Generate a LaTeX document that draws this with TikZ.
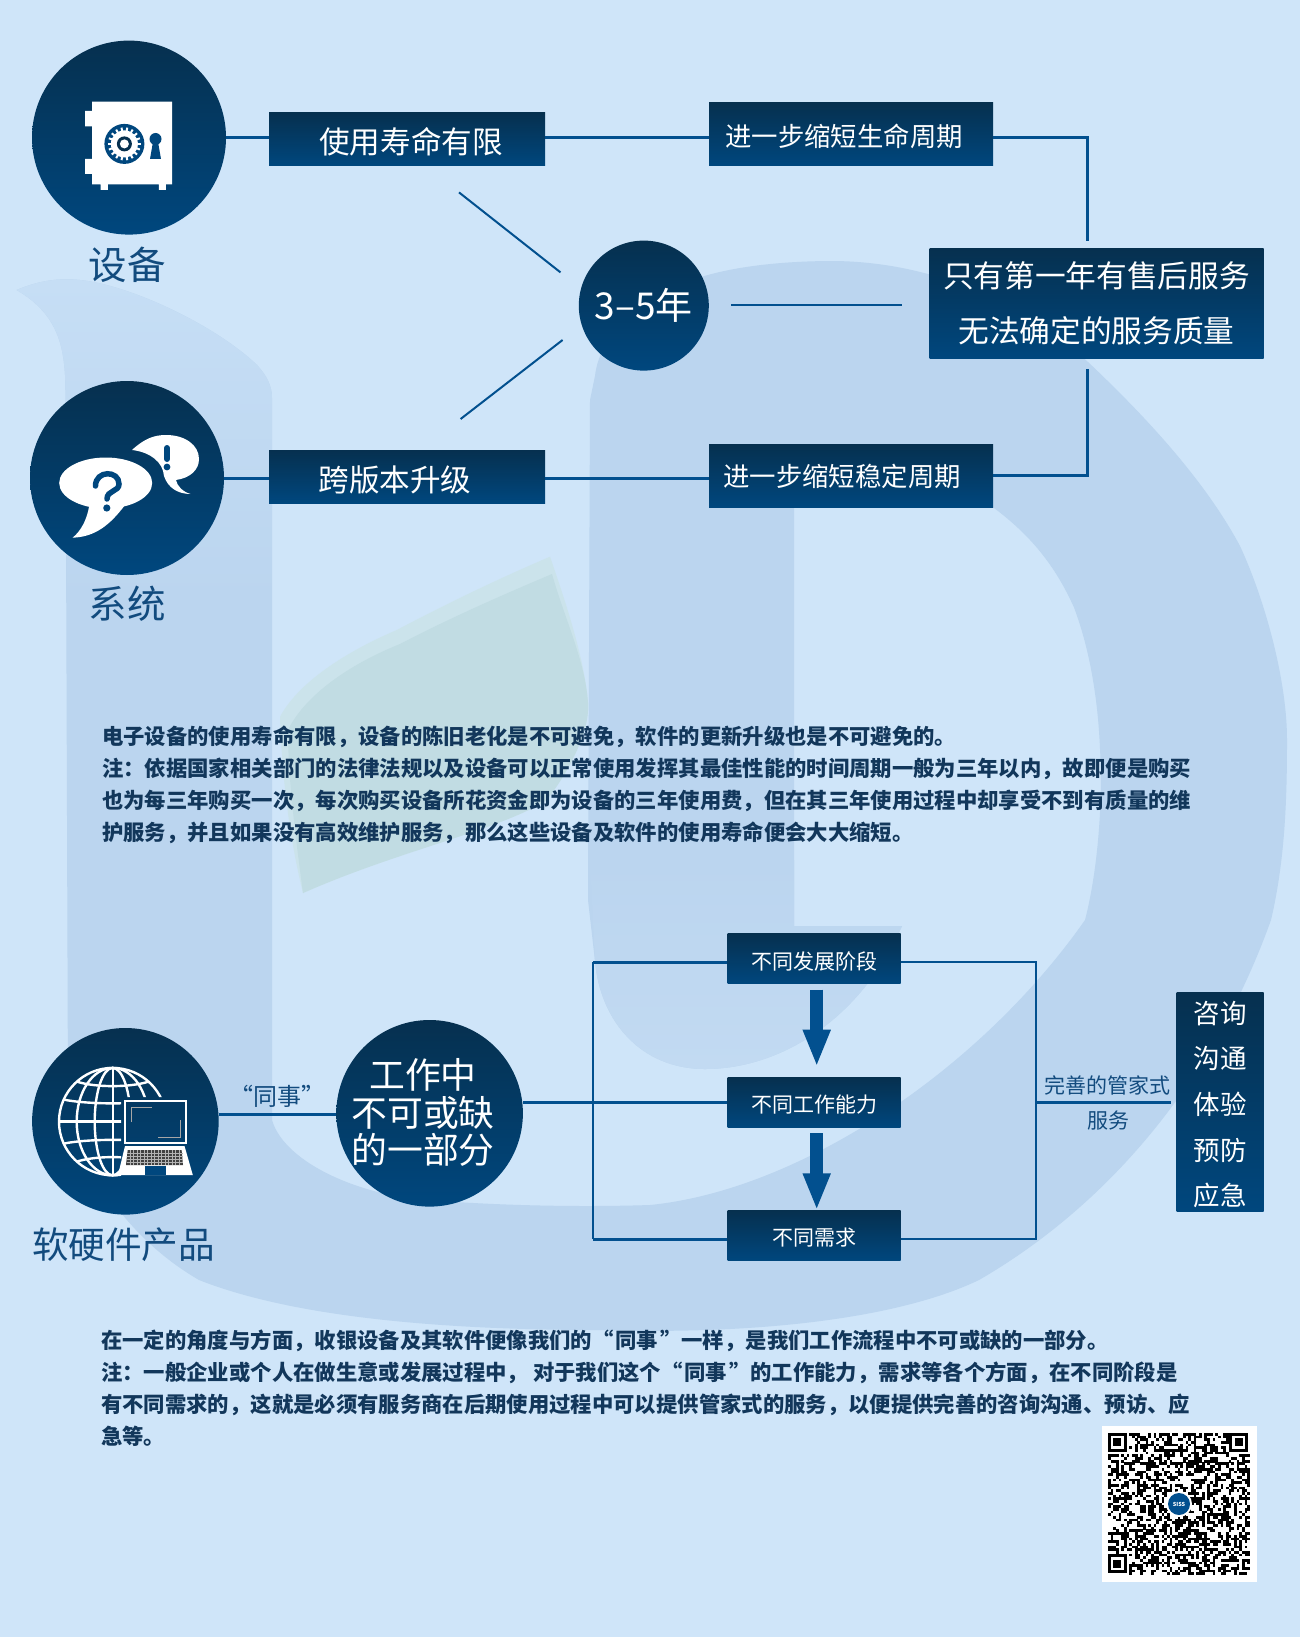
\documentclass[tikz,border=0pt]{standalone}
\usepackage{fontspec}
\setmainfont{Noto Sans CJK SC}
\usetikzlibrary{arrows.meta, positioning}
\definecolor{pageblue}{HTML}{CFE5F9}
\definecolor{markblue}{HTML}{BBD5EF}
\definecolor{palemark}{HTML}{C6DEF5}
\definecolor{lobeblue}{HTML}{C2DAF2}
\definecolor{leafout}{HTML}{CBE3EB}
\definecolor{leafin}{HTML}{C1DCE3}
\definecolor{navytop}{HTML}{06304F}
\definecolor{navybot}{HTML}{00477E}
\definecolor{linkblue}{HTML}{02508F}
\definecolor{capblue}{HTML}{124B7E}
\definecolor{inkblue}{HTML}{12375B}
\newcommand{\fsz}[1]{\fontsize{#1}{#1}\selectfont}

\begin{document}
\begin{tikzpicture}[x=1pt,y=-1pt,
                    navy/.style={top color=navytop,bottom color=navybot,text=white,inner sep=0pt},
                    round/.style={navy,circle,minimum size=#1},
                    bar/.style={navy,rectangle},
                    link/.style={linkblue,line width=3pt},
                    thinlink/.style={linkblue,line width=2pt},
                    fat/.style={linkblue,line width=12.5pt,-{Triangle[length=37pt,width=25.3pt]}},
                    caption/.style={text=capblue,inner sep=0pt},
                    para/.style={text=inkblue,inner sep=0pt,anchor=north west,align=left,
                                 font=\bfseries\fontsize{21.35}{32}\selectfont}]
                \useasboundingbox (0,0) rectangle (1300,1637);
                \fill[pageblue] (0,0) rectangle (1300,1637);

                % watermark
                \fill[markblue] (16.6,290) .. controls (40,280) and (60,278) .. (80,280)
                    .. controls (130,285) and (215,325) .. (257,365)
                    .. controls (266,375) and (272,385) .. (272,398)
                    -- (272,1120) .. controls (285,1165) and (370,1202) .. (456,1202)
                    .. controls (520,1206) and (590,1207) .. (650,1205)
                    .. controls (800,1190) and (980,1070) .. (1085,920)
                    .. controls (1098,870) and (1103,800) .. (1100,749)
                    .. controls (1098,700) and (1090,650) .. (1074,607.5)
                    .. controls (1055,565) and (1030,535) .. (994,508)
                    .. controls (950,480) and (870,470) .. (794,470)
                    -- (794,926) -- (902,926)
                    .. controls (860,1020) and (780,1069) .. (705,1069)
                    .. controls (640,1069) and (600,1020) .. (595,961)
                    -- (588,900) -- (590,400) -- (595,376)
                    .. controls (600,330) and (650,290) .. (701,277)
                    .. controls (740,265) and (790,261) .. (834,261)
                    .. controls (930,262) and (1020,300) .. (1088,362)
                    .. controls (1160,430) and (1210,490) .. (1240,546)
                    .. controls (1265,600) and (1287,680) .. (1287,740)
                    .. controls (1287,800) and (1285,860) .. (1271,920)
                    .. controls (1210,1090) and (1100,1210) .. (979,1280)
                    .. controls (900,1318) and (760,1335) .. (600,1330)
                    .. controls (460,1330) and (300,1320) .. (199,1280)
                    .. controls (130,1240) and (80,1170) .. (68,1100)
                    -- (65.5,390) .. controls (65,350) and (60,315) .. (16.6,290) -- cycle;
                \shade[top color=palemark,bottom color=markblue] (16.6,290) .. controls (40,280) and (60,278) .. (80,280)
                    .. controls (130,285) and (215,325) .. (257,365)
                    .. controls (266,375) and (272,385) .. (272,398)
                    -- (272,600) -- (66.5,600)
                    -- (65.5,390) .. controls (65,350) and (60,315) .. (16.6,290) -- cycle;
                \shade[top color=markblue,bottom color=lobeblue] (590,860) -- (794,860) -- (794,926) -- (902,926)
                    .. controls (860,1020) and (780,1069) .. (705,1069)
                    .. controls (640,1069) and (600,1020) .. (595,961) -- cycle;
                \fill[leafout] (550,556.7) .. controls (500,578) and (450,602) .. (396.7,630)
                    .. controls (350,650) and (300,680) .. (280,716.7)
                    .. controls (282,780) and (290,840) .. (303,893)
                    .. controls (400,850) and (500,830) .. (546.7,800)
                    .. controls (570,770) and (590,730) .. (588,703)
                    .. controls (585,660) and (565,600) .. (550,556.7) -- cycle;
                \fill[leafin] (552,574) .. controls (500,596) and (450,618) .. (400,644)
                    .. controls (350,664) and (305,695) .. (288,730)
                    .. controls (288,780) and (296,840) .. (303,893)
                    .. controls (400,850) and (500,830) .. (546.7,800)
                    .. controls (570,770) and (590,730) .. (588,703)
                    .. controls (585,660) and (565,620) .. (552,574) -- cycle;

                % upper flow
                \node[round=194pt] (device) at (129,137.6) {};
                \node[round=194pt] (system) at (127,478) {};
                \node[round=130pt,font=\fsz{37}] (years) at (643.8,305.6) {3–5年};
                \node[bar,minimum width=276pt,minimum height=53pt,font=\fsz{30.6},text height=27.3pt,text depth=0pt] (lifebox) at (407,139.5) {\hspace*{8pt}使用寿命有限};
                \node[bar,minimum width=276pt,minimum height=53pt,font=\fsz{30.6},text height=29.3pt,text depth=0pt] (upgradebox) at (407,476.5) {\hspace*{-24pt}跨版本升级};
                \node[bar,minimum width=284pt,minimum height=63pt,font=\fsz{26.4},text height=24pt,text depth=0pt] (shortlife) at (851,134.5) {\hspace*{-14pt}进一步缩短生命周期};
                \node[bar,minimum width=284pt,minimum height=63pt,font=\fsz{26.4},text height=22pt,text depth=0pt] (shortstable) at (851,475.5) {\hspace*{-18pt}进一步缩短稳定周期};
                \node[bar,minimum width=334pt,minimum height=110.7pt,align=center,font=\fontsize{30.7}{55.7}\selectfont] (onlybox) at (1096.5,303.4) {只有第一年有售后服务\\无法确定的服务质量};
                \node[caption,font=\fsz{38.5}] (devicename) at (127,265) {设备};
                \node[caption,font=\fsz{38.5}] (systemname) at (127,604) {系统};

                \coordinate (fromlife) at (459,192.4);
                \coordinate (toyearsa) at (560.5,272.4);
                \coordinate (fromupgrade) at (460.6,419);
                \coordinate (toyearsb) at (562.6,340);
                \coordinate (fromyears) at (731,305);
                \coordinate (toonly) at (902,305);
                \coordinate (uptop) at (1087,240.7);
                \coordinate (downtop) at (1087,369);

                \draw[link] (device.east) -- (device.east -| lifebox.west);
                \draw[link] (lifebox.east |- device.east) -- (shortlife.west |- device.east);
                \draw[link] ([yshift=-3.2pt]shortlife.east) -| (uptop);
                \draw[link] (system.east) -- (system.east -| upgradebox.west);
                \draw[link] (upgradebox.east |- system.east) -- (shortstable.west |- system.east);
                \draw[link] (shortstable.east) -| (downtop);
                \draw[link,line width=2.4pt] (fromyears) -- (toonly);
                \draw[thinlink] (fromlife) -- (toyearsa);
                \draw[thinlink] (fromupgrade) -- (toyearsb);

                % safe
                \fill[white] (92,101.6) -- (172,101.6) -- (172,184.5) -- (165.8,184.5) -- (165.8,190)
                    -- (158.8,190) -- (158.8,184.5) -- (107.8,184.5) -- (107.8,190) -- (100.7,190)
                    -- (100.7,184.5) -- (92,184.5) -- (92,174) -- (85,174) -- (85,159) -- (92,159)
                    -- (92,126.5) -- (85,126.5) -- (85,111) -- (92,111) -- cycle;
                \begin{scope}[shift={(124.4,143.9)}]
                    \fill[navybot] (0,0) circle (20);
                    \fill[white] (0,0) circle (13.5);
                    \foreach \tooth in {0,20,...,340}
                        \draw[white,line width=2pt] (\tooth:12) -- (\tooth:16.5);
                    \fill[navytop] (0,0) circle (7.5);
                    \fill[white] (0,0) circle (4.5);
                \end{scope}
                \fill[navybot] (155.5,139) circle (6);
                \fill[navybot] (153.5,139) -- (157.5,139) -- (161,159) -- (150,159) -- cycle;

                % speech bubbles
                \fill[white] (105.7,483) ellipse [x radius=46.5,y radius=25.5];
                \fill[white] (90,500) .. controls (88,520) and (80,532) .. (72.5,537.7)
                    .. controls (95,537) and (110,525) .. (125,505) -- cycle;
                \fill[white] (132,450) .. controls (145,438) and (155,435) .. (166,435)
                    .. controls (185,435) and (199,445) .. (199,459)
                    .. controls (199,470) and (190,478) .. (176,480)
                    .. controls (177,486) and (183,492) .. (190.7,494)
                    .. controls (178,494) and (168,488) .. (164,476)
                    .. controls (163,462) and (150,452) .. (132,450) -- cycle;
                \draw[navybot,line width=6pt,line cap=round] (167,448) -- (167,459);
                \fill[navybot] (167,467) circle (3.4);
                \draw[navybot,line width=5.5pt,line cap=round] (95.5,486) .. controls (95.5,470) and (119,470) .. (119,484)
                    .. controls (119,492) and (107,490) .. (107,499);
                \fill[navybot] (106.8,508) circle (3.6);

                % notes
                \node[para] (upnote) at (102,726) {电子设备的使用寿命有限，设备的陈旧老化是不可避免，软件的更新升级也是不可避免的。\\
                    注：依据国家相关部门的法律法规以及设备可以正常使用发挥其最佳性能的时间周期一般为三年以内，故即便是购买\\
                    也为每三年购买一次，每次购买设备所花资金即为设备的三年使用费，但在其三年使用过程中却享受不到有质量的维\\
                    护服务，并且如果没有高效维护服务，那么这些设备及软件的使用寿命便会大大缩短。};
                \node[para] (lownote) at (101,1330) {在一定的角度与方面，收银设备及其软件便像我们的“\hspace{2pt}同事\hspace{2pt}”一样，是我们工作流程中不可或缺的一部分。\\
                    注：一般企业或个人在做生意或发展过程中， 对于我们这个“\hspace{2pt}同事\hspace{2pt}”的工作能力，需求等各个方面，在不同阶段是\\
                    有不同需求的，这就是必须有服务商在后期使用过程中可以提供管家式的服务，以便提供完善的咨询沟通、预访、应\\
                    急等。};

                % lower flow
                \node[round=186.6pt] (product) at (125.4,1121.3) {};
                \node[round=186.6pt] (work) at (429.6,1113.3) {};
                \node[text=white,inner sep=0pt,align=center,font=\fontsize{35.8}{37.5}\selectfont] (worktext) at (423,1112.5) {工作中\\不可或缺\\的一部分};
                \node[bar,minimum width=173pt,minimum height=50pt,font=\fsz{21},text height=22pt,text depth=0pt] (stage) at (814,958.8) {不同发展阶段};
                \node[bar,minimum width=173pt,minimum height=50pt,font=\fsz{21},text height=20pt,text depth=0pt] (ability) at (814,1102.9) {不同工作能力};
                \node[bar,minimum width=173pt,minimum height=50pt,font=\fsz{21},text height=20pt,text depth=0pt] (need) at (814,1235.8) {不同需求};
                \node[bar,minimum width=87pt,minimum height=219.7pt,align=center,font=\fontsize{26.5}{45.7}\selectfont] (servicebox) at (1220,1101.9) {\rule{0pt}{27.3pt}咨询\\沟通\\体验\\预防\\应急};
                \node[caption,font=\fsz{36.6}] (productname) at (123.5,1245) {软硬件产品};
                \node[caption,font=\fsz{24}] (colleague) at (277,1096.5) {“同事”};
                \node[caption,font=\fsz{21}] (butler) at (1107,1085) {完善的管家式};
                \node[caption,font=\fsz{21}] (butlertwo) at (1108.5,1121) {服务};

                \coordinate (leftbus) at (592.5,1100);
                \coordinate (rightbus) at (1036,1100);
                \coordinate (toservice) at (1171,1102.3);

                \draw[link,line width=2.6pt] (product.east |- 0,1114.7) -- (work.west |- 0,1114.7);
                \draw[link] (work.east |- ability.west) -- (ability.west);
                \draw[link] ([yshift=-3.5pt]stage.west) -- ([yshift=-3.5pt]stage.west -| leftbus);
                \draw[link] ([yshift=-3.5pt]need.west) -- ([yshift=-3.5pt]need.west -| leftbus);
                \draw[thinlink] (leftbus |- 0,962.3) -- (leftbus |- 0,1239.3);
                \draw[thinlink] ([yshift=-3.5pt]stage.east) -| (rightbus);
                \draw[thinlink] ([yshift=-3.5pt]need.east) -| (rightbus);
                \draw[link] (rightbus |- toservice) -- (toservice);
                \draw[fat,shorten <=5.6pt,shorten >=11pt] ([xshift=2.7pt]stage.south) -- ([xshift=2.7pt]ability.north);
                \draw[fat,shorten <=5.3pt,shorten >=0.3pt] ([xshift=2.7pt]ability.south) -- ([xshift=2.7pt]need.north);

                % globe and laptop
                \begin{scope}
                    \clip (55,1060) -- (170,1060) -- (170,1097) -- (121,1097) -- (121,1180) -- (55,1180) -- cycle;
                    \draw[white,line width=2.4pt] (112.7,1121.6) circle (53.7);
                    \foreach \merid in {18,36}
                        \draw[white,line width=2.4pt] (112.7,1121.6) ellipse [x radius=\merid,y radius=53.7];
                    \draw[white,line width=2.4pt] (112.7,1068) -- (112.7,1175);
                    \foreach \rowy/\rowx/\rowc in {-40/35.8/6,-22/49/5,0/53.7/0,22/49/-5,40/35.8/-6}
                        \draw[white,line width=2.4pt] (112.7-\rowx,1121.6+\rowy) .. controls (112.7-\rowx/2,1121.6+\rowy+\rowc) and (112.7+\rowx/2,1121.6+\rowy+\rowc) .. (112.7+\rowx,1121.6+\rowy);
                \end{scope}
                \draw[white,line width=1.6pt] (125,1101) rectangle (185.7,1142.7);
                \draw[gray!70!white,line width=1pt] (131,1122) -- (131,1107) -- (152,1107);
                \draw[gray!70!white,line width=1pt] (180,1120) -- (180,1137) -- (158,1137);
                \fill[white] (125,1146) -- (184.5,1146) -- (192.8,1175) -- (118,1175) -- cycle;
                \fill[black!75] (127.7,1150) -- (181.6,1150) -- (183,1165) -- (126,1165) -- cycle;
                \foreach \keyrow in {1153,1156,1159,1162}
                    \draw[white!70!black,line width=0.5pt] (127,\keyrow) -- (182.5,\keyrow);
                \foreach \keycol in {130,133.5,...,180}
                    \draw[white!70!black,line width=0.5pt] (\keycol,1150) -- (\keycol,1165);
                \fill[navybot] (145,1166) rectangle (166,1175);

                % code square
                \fill[white] (1102,1426) rectangle (1257,1581.7);
                \pgfmathsetseed{17}
                \foreach \qx in {0,...,52}
                    \foreach \qy in {0,...,52} {
                        \pgfmathrandominteger{\qbit}{0}{1}
                        \ifnum\qbit=1
                            \fill[black] (1108+\qx*2.68,1433+\qy*2.68) rectangle ++(2.72,2.72);
                        \fi
                    }
                \foreach \fx/\fy in {1108/1433,1229.3/1433,1108/1554.3} {
                    \fill[white] (\fx-0.5,\fy-0.5) rectangle ++(21.5,21.5);
                    \fill[black] (\fx,\fy) rectangle ++(18.8,18.8);
                    \fill[white] (\fx+2.7,\fy+2.7) rectangle ++(13.4,13.4);
                    \fill[black] (\fx+5.4,\fy+5.4) rectangle ++(8,8);
                }
                \node[circle,fill=white,minimum size=26pt,inner sep=0pt] (logoback) at (1179,1504) {};
                \node[circle,fill=linkblue,text=white,minimum size=22pt,inner sep=0pt,font=\bfseries\fsz{5.5}] (logo) at (1179,1504) {SISS};
\end{tikzpicture}
\end{document}
